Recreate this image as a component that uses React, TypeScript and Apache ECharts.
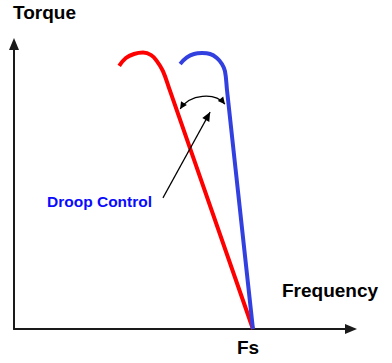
import React, { useEffect, useRef } from "react";
import * as echarts from "echarts";

// Data (arbitrary units: x = frequency 0..100, y = torque 0..100)
const redX = [31.2, 33.2, 35.6, 38.3, 40.7, 42.4, 44.2, 46.2, 70.9];
const redY = [92.3, 95.1, 96.5, 97.0, 96.1, 94.0, 90.5, 83.9, 0];
const blueX = [49.3, 51.3, 53.4, 55.8, 58.2, 60.2, 61.7, 62.6, 63.2, 70.9];
const blueY = [93.0, 95.3, 96.5, 96.8, 96.5, 95.1, 93.0, 90.5, 83.9, 0];

const yTitle = "Torque";
const xTitle = "Frequency";
const fsLabel = "Fs";
const noteLabel = "Droop Control";

// annotation anchors in data units
const arcStart = [49.3, 77.2];
const arcCp1 = [52.2, 82.5];
const arcCp2 = [59.6, 83.2];
const arcEnd = [62.6, 78.9];
const pointerTail = [44.2, 46.0];
const pointerTip = [58.2, 76.1];

const FONT = '"Liberation Sans", Arial, Helvetica, sans-serif';

function head(tip: number[], from: number[], len: number, hw: number) {
  const dx = tip[0] - from[0];
  const dy = tip[1] - from[1];
  const d = Math.hypot(dx, dy) || 1;
  const ux = dx / d, uy = dy / d;
  const bx = tip[0] - ux * len, by = tip[1] - uy * len;
  const nx = -uy, ny = ux;
  return {
    type: "polygon",
    shape: { points: [[tip[0], tip[1]], [bx + nx * hw, by + ny * hw], [bx - nx * hw, by - ny * hw]] },
    style: { fill: "#000" },
    z: 10,
  };
}

export default function App() {
  const ref = useRef<HTMLDivElement>(null);
  useEffect(() => {
    if (!ref.current) return;
    const chart = echarts.init(ref.current, undefined, { renderer: "svg" });
    const axisCommon = {
      type: "value",
      min: 0,
      max: 100,
      axisLine: {
        show: true,
        symbol: ["none", "triangle"],
        symbolSize: [10, 12],
        lineStyle: { color: "#1a1a1a", width: 2 },
      },
      axisTick: { show: false },
      axisLabel: { show: false },
      splitLine: { show: false },
    };
    chart.setOption({
      animation: false,
      backgroundColor: "#ffffff",
      grid: { left: 14, right: 41, top: 44, bottom: 34 },
      xAxis: { ...axisCommon },
      yAxis: { ...axisCommon },
      series: [
        {
          type: "line",
          data: redX.map((x, i) => [x, redY[i]]),
          smooth: 0.4,
          symbol: "none",
          lineStyle: { color: "#ff0000", width: 4, cap: "butt", join: "round" },
          z: 3,
        },
        {
          type: "line",
          data: blueX.map((x, i) => [x, blueY[i]]),
          smooth: 0.4,
          symbol: "none",
          lineStyle: { color: "#3340e0", width: 4, cap: "butt", join: "round" },
          z: 4,
        },
      ],
    });
    const px = (p: number[]) => chart.convertToPixel({ gridIndex: 0 }, p) as number[];
    const L = px(arcStart), C1 = px(arcCp1), C2 = px(arcCp2), R = px(arcEnd);
    const T = px(pointerTail), P = px(pointerTip);
    chart.setOption({
      graphic: [
        {
          type: "bezierCurve",
          shape: { x1: L[0], y1: L[1], cpx1: C1[0], cpy1: C1[1], cpx2: C2[0], cpy2: C2[1], x2: R[0], y2: R[1] },
          style: { stroke: "#000", lineWidth: 1.2, fill: null },
          z: 10,
        },
        head(L, C1, 7, 3.5),
        head(R, C2, 7, 3.5),
        {
          type: "line",
          shape: { x1: T[0], y1: T[1], x2: P[0], y2: P[1] },
          style: { stroke: "#000", lineWidth: 1.2 },
          z: 10,
        },
        head(P, T, 9, 4),
        {
          type: "text",
          x: 13,
          y: 12,
          style: { text: yTitle, font: `bold 19px ${FONT}`, fill: "#000", verticalAlign: "middle" },
        },
        {
          type: "text",
          x: 282,
          y: 290,
          style: { text: xTitle, font: `bold 19px ${FONT}`, fill: "#000", verticalAlign: "middle" },
        },
        {
          type: "text",
          x: 237,
          y: 347,
          style: { text: fsLabel, font: `bold 19px ${FONT}`, fill: "#000", verticalAlign: "middle" },
        },
        {
          type: "text",
          x: 47,
          y: 201,
          style: { text: noteLabel, font: `bold 15.5px ${FONT}`, fill: "#0a0aff", verticalAlign: "middle" },
        },
      ],
    });
    return () => chart.dispose();
  }, []);
  return (
    <div
      ref={ref}
      style={{ position: "fixed", left: 0, top: 0, width: 392, height: 363, background: "#fff" }}
    />
  );
}
